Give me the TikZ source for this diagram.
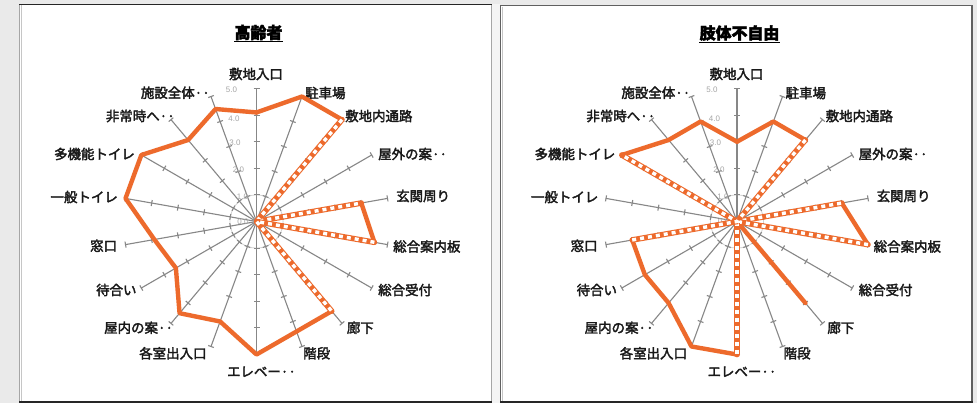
\documentclass[tikz,border=0pt]{standalone}
\usepackage{fontspec}
\setmainfont{Noto Sans CJK JP}
\newfontfamily\labfont{Noto Sans CJK JP}[FakeBold=2.5]
\newfontfamily\numfont{Liberation Sans}
\definecolor{orng}{RGB}{237,106,44}
\definecolor{axgray}{RGB}{135,135,135}
\definecolor{bggray}{RGB}{234,234,234}
\definecolor{gapgray}{RGB}{244,244,244}
\tikzset{
  axisln/.style={draw=axgray, line width=1.1bp},
  gridc/.style={draw=gray!35, line width=0.8bp},
  dataln/.style={draw=orng, line width=4.4bp, line join=round, line cap=round},
  dashbase/.style={draw=orng, line width=5.6bp, line join=round, line cap=round},
  dashln/.style={draw=white, line width=3.4bp, dash pattern=on 4bp off 4bp},
  lab/.style={font=\labfont\fontsize{13.5}{14}\selectfont, inner sep=0pt, text=black!90},
  scl/.style={font=\numfont\fontsize{8}{9}\selectfont, text=gray!70, inner sep=0pt},
  ttl/.style={font=\labfont\bfseries\fontsize{16}{17}\selectfont, inner sep=0pt},
}
\newcommand\radarframe[3]{%
  \coordinate (#1O) at (#2,#3);
  \draw[gridc] (#1O) circle[radius=26.6bp];
  \foreach \i in {0,...,17}{
    \pgfmathsetmacro\ang{20*\i}
    \draw[axisln] (#1O) -- ++({133*sin(\ang)},{-133*cos(\ang)});
    \foreach \k in {1,...,5}{
      \draw[axisln] ({#2+26.6*\k*sin(\ang)-3*cos(\ang)},{#3-26.6*\k*cos(\ang)-3*sin(\ang)}) -- ++({6*cos(\ang)},{6*sin(\ang)});
    }
  }
  \node[scl] (#1s5) at (#2-25,90) {5.0};
  \node[scl] (#1s4) at (#2-22.5,119) {4.0};
  \node[scl] (#1s3) at (#2-21.5,143) {3.0};
  \node[scl] (#1s2) at (#2-18,170) {2.0};
  \node[scl] (#1s1) at (#2-14,197) {1.0};
  \node[scl] (#1s0) at (#2-13.5,222) {0.0};
}
\newcommand\radarlabels[2]{%
  \node[lab] (#1t0) at (#2-0.5,74) {敷地入口};
  \node[lab,anchor=west] (#1t1) at (#2+48.5,93) {駐車場};
  \node[lab,anchor=west] (#1t2) at (#2+88.5,116) {敷地内通路};
  \node[lab,anchor=west] (#1t3) at (#2+121.5,154) {屋外の案··};
  \node[lab,anchor=west] (#1t4) at (#2+139.5,196) {玄関周り};
  \node[lab,anchor=west] (#1t5) at (#2+136.5,246.5) {総合案内板};
  \node[lab,anchor=west] (#1t6) at (#2+121.5,290) {総合受付};
  \node[lab,anchor=west] (#1t7) at (#2+90.2,327.7) {廊下};
  \node[lab,anchor=west] (#1t8) at (#2+46.5,353.3) {階段};
  \node[lab] (#1t9) at (#2+5,371.7) {エレベー··};
  \node[lab,anchor=east] (#1t10) at (#2-49.8,353.3) {各室出入口};
  \node[lab,anchor=east] (#1t11) at (#2-83.2,327.7) {屋内の案··};
  \node[lab,anchor=east] (#1t12) at (#2-119.8,290) {待合い};
  \node[lab,anchor=east] (#1t13) at (#2-139.2,245.7) {窓口};
  \node[lab,anchor=east] (#1t14) at (#2-138.5,197) {一般トイレ};
  \node[lab,anchor=east] (#1t15) at (#2-121.5,154) {多機能トイレ};
  \node[lab,anchor=east] (#1t16) at (#2-81.5,116) {非常時へ··};
  \node[lab,anchor=east] (#1t17) at (#2-46.5,92.7) {施設全体··};
}
\newcommand\radarpts[4]{%
  \foreach \v [count=\i from 0] in {#4}{
    \coordinate (#1\i) at ({#2+26.6*\v*sin(20*\i)},{#3-26.6*\v*cos(20*\i)});
  }
}
\begin{document}
\begin{tikzpicture}[x=1bp,y=-1bp]
\useasboundingbox (0,0) rectangle (977,403);
\fill[bggray] (0,0) rectangle (977,403);
\fill[gapgray] (492,4) rectangle (500,403);
% panels
\filldraw[fill=white, draw=gray!70, line width=1.2bp] (19.5,4.5) rectangle (491.2,401.6);
\draw[gray!45, line width=1bp] (21.6,5) -- (21.6,401);
\draw[black!85, line width=1.6bp] (19,4.3) -- (491.8,4.3);
\draw[black!85, line width=2bp] (19,401.8) -- (491.8,401.8);
\filldraw[fill=white, draw=gray!75!black, line width=1.2bp] (500.6,5.6) rectangle (972,401.6);
\draw[gray!45, line width=1bp] (502.5,6.5) -- (502.5,401);
\draw[black!85, line width=2bp] (500,401.8) -- (972.6,401.8);
% titles
\node[ttl] (TL) at (258.5,32.5) {高齢者};
\draw[line width=1.1bp] ([yshift=-1.5bp]TL.south west) -- ([yshift=-1.5bp]TL.south east);
\node[ttl] (TR) at (739.5,33) {肢体不自由};
\draw[line width=1.1bp] ([yshift=-1.5bp]TR.south west) -- ([yshift=-1.5bp]TR.south east);
% left chart
\radarframe{A}{256.5}{221.5}
\radarlabels{A}{256.5}
\radarpts{A}{256.5}{221.5}{4.1,5.0,5.0,0,4.0,4.5,0,4.4,4.4,5.0,4.0,4.5,3.5,3.9,5.0,5.0,4.0,4.5}
\draw[dataln] (A0) -- (A1) -- (A2);
\draw[dataln] (A4) -- (A5);
\draw[dataln] (A7) -- (A8) -- (A9) -- (A10) -- (A11) -- (A12) -- (A13) -- (A14) -- (A15) -- (A16) -- (A17) -- (A0);
\draw[dashbase] (A2) -- (AO) -- (A4);
\draw[dashln] (A2) -- (AO) -- (A4);
\draw[dashbase] (A5) -- (AO) -- (A7);
\draw[dashln] (A5) -- (AO) -- (A7);
% right chart
\radarframe{B}{737}{221.5}
\radarlabels{B}{737}
\radarpts{B}{737}{221.5}{3.0,4.0,4.0,0,4.0,5.0,0,4.0,0,5.0,5.0,4.0,4.0,4.0,0,5.0,4.0,4.0}
\draw[dataln] (B0) -- (B1) -- (B2);
\draw[dataln] (B4) -- (B5);
\draw[dataln] (BO) -- (B7);
\draw[dataln] (B9) -- (B10) -- (B11) -- (B12) -- (B13);
\draw[dataln] (B15) -- (B16) -- (B17) -- (B0);
\draw[dashbase] (B2) -- (BO) -- (B4);
\draw[dashln] (B2) -- (BO) -- (B4);
\draw[dashbase] (B5) -- (BO);
\draw[dashln] (B5) -- (BO);
\draw[dashbase] (BO) -- (B9);
\draw[dashln] (BO) -- (B9);
\draw[dashbase] (B13) -- (BO) -- (B15);
\draw[dashln] (B13) -- (BO) -- (B15);
\end{tikzpicture}
\end{document}
